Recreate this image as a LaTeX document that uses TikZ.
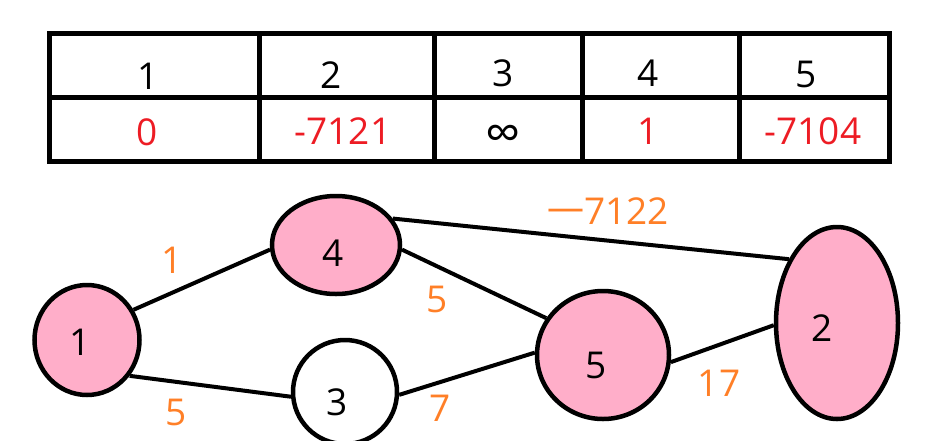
\documentclass[tikz,border=0pt]{standalone}
\usepackage{fontspec}
\setmainfont{Open Sans}
\usetikzlibrary{shapes.geometric}
\definecolor{pinkfill}{HTML}{FFAEC9}
\definecolor{valred}{HTML}{ED1C24}
\definecolor{wtorange}{HTML}{FF7F27}
\begin{document}
\begin{tikzpicture}[x=1pt,y=-1pt,
  vert/.style={ellipse, draw=black, line width=4.5pt, inner sep=0pt, fill=pinkfill},
  plainvert/.style={vert, fill=white},
  vlabel/.style={font=\fontsize{37}{40}\selectfont, inner sep=0pt},
  edge/.style={line width=4pt},
  tline/.style={line width=5pt},
  cell/.style={font=\fontsize{37}{40}\selectfont, inner sep=0pt},
  valcell/.style={cell, text=valred},
  wt/.style={font=\fontsize{37}{40}\selectfont, inner sep=0pt, text=wtorange},
 ]
\useasboundingbox (0,0) rectangle (940,440);
% table
\draw[tline] (49,33.5) rectangle (889.5,161.5);
\draw[tline] (49,97.5) -- (889.5,97.5);
\foreach \x in {259,434,582.5,739.5} \draw[tline] (\x,33.5) -- (\x,161.5);
\node[cell] (h1) at (148,76) {1};
\node[cell] (h2) at (331,75) {2};
\node[cell] (h3) at (503,73) {3};
\node[cell] (h4) at (648,73) {4};
\node[cell] (h5) at (806,74) {5};
\node[valcell] (v1) at (147,132) {0};
\node[valcell] (v2) at (343,131) {-7121};
\node[cell, font=\fontsize{50}{50}\selectfont] (v3) at (503,138) {∞};
\node[valcell] (v4) at (648,131) {1};
\node[valcell] (v5) at (813,131) {-7104};
% vertices
\node[vert, minimum width=105pt, minimum height=110pt,
  label={[vlabel, xshift=-7pt, yshift=-2pt]center:1}] (n1) at (87,340) {};
\node[vert, minimum width=128pt, minimum height=98pt,
  label={[vlabel, xshift=-3pt, yshift=-8pt]center:4}] (n4) at (336,245) {};
\node[plainvert, minimum width=104pt, minimum height=104pt,
  label={[vlabel, xshift=-8pt, yshift=-10pt]center:3}] (n3) at (345,392) {};
\node[vert, minimum width=132pt, minimum height=128pt,
  label={[vlabel, xshift=-7pt, yshift=-10pt]center:5}] (n5) at (603,355) {};
\node[vert, minimum width=122pt, minimum height=192pt,
  label={[vlabel, xshift=-15pt, yshift=-5pt]center:2}] (n2) at (837,323) {};
% edges
\draw[edge] (n1.33) -- (n4.184.6);
\draw[edge] (n1.-40) -- (n3.185);
\draw[edge] (n4.-4.5) -- (n5.147.5);
\draw[edge] (n3.-3) -- (n5.178);
\draw[edge] (n4.25) -- (n2.127.6);
\draw[edge] (n5.-6) -- (n2.182);
% weights
\node[wt] (w14) at (172,260) {1};
\node[wt] (w13) at (176,412) {5};
\node[wt] (w45) at (437,299) {5};
\node[wt] (w35) at (440,408) {7};
\node[wt] (w52) at (719,383) {17};
\node[wt] (w42) at (608,211) {\raisebox{4pt}{—}7122};
\end{tikzpicture}
\end{document}
